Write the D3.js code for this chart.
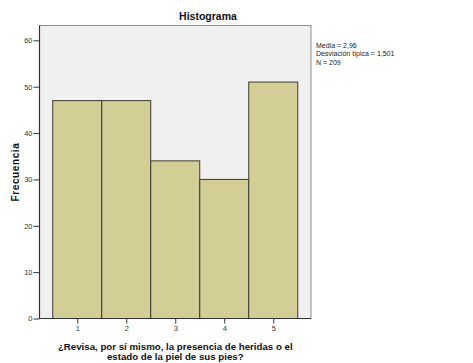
<!DOCTYPE html>
<html><head><meta charset="utf-8">
<script src="https://cdn.jsdelivr.net/npm/d3@7"></script>
<style>html,body{margin:0;padding:0;background:#fff;}svg{display:block;}</style>
</head><body>
<script>
const categories = [1, 2, 3, 4, 5];
const frequencies = [47, 47, 34, 30, 51];
const yTicks = [0, 10, 20, 30, 40, 50, 60];
const statsLines = ["Media = 2,96", "Desviación típica = 1,501", "N = 209"];
const titleText = "Histograma";
const yLabel = "Frecuencia";
const xLabelLines = ["¿Revisa, por sí mismo, la presencia de heridas o el", "estado de la piel de sus pies?"];

const W = 473, H = 363;
const plot = {l: 39.5, t: 25.5, r: 311, b: 318.5};
const svg = d3.select("body").append("svg").attr("width", W).attr("height", H);
const font = "'Liberation Sans', Arial, sans-serif";

const x = d3.scaleLinear().domain([0.23, 5.77]).range([plot.l, plot.r]);
const y = d3.scaleLinear().domain([0, 63.2]).range([plot.b, plot.t]);

svg.append("rect").attr("x", plot.l).attr("y", plot.t)
  .attr("width", plot.r - plot.l).attr("height", plot.b - plot.t)
  .attr("fill", "#f0f0f0").attr("stroke", "#8c8c8c").attr("stroke-width", 1);

svg.selectAll("rect.bar").data(categories).enter().append("rect")
  .attr("class", "bar")
  .attr("x", d => x(d - 0.5))
  .attr("width", d => x(d + 0.5) - x(d - 0.5))
  .attr("y", (d, i) => y(frequencies[i]))
  .attr("height", (d, i) => y(0) - y(frequencies[i]))
  .attr("fill", "#d3cd96").attr("stroke", "#3a3a30").attr("stroke-width", 1);

// axes lines
svg.append("line").attr("x1", plot.l).attr("x2", plot.l).attr("y1", plot.t).attr("y2", plot.b)
  .attr("stroke", "#333").attr("stroke-width", 1.2);
svg.append("line").attr("x1", plot.l).attr("x2", plot.r).attr("y1", plot.b).attr("y2", plot.b)
  .attr("stroke", "#333").attr("stroke-width", 1.2);

const yAxis = d3.axisLeft(y).tickValues(yTicks).tickFormat(d3.format("d")).tickSize(6).tickPadding(1);
const gy = svg.append("g").attr("transform", `translate(${plot.l},0)`).call(yAxis);
gy.select(".domain").remove();
gy.selectAll("line").attr("stroke", "#333");
gy.selectAll("text").attr("font-family", font).attr("font-size", 7.5).attr("fill", "#333");

const xAxis = d3.axisBottom(x).tickValues(categories).tickFormat(d3.format("d")).tickSize(5).tickPadding(2);
const gx = svg.append("g").attr("transform", `translate(0,${plot.b})`).call(xAxis);
gx.select(".domain").remove();
gx.selectAll("line").attr("stroke", "#333");
gx.selectAll("text").attr("font-family", font).attr("font-size", 7.5).attr("fill", "#333");

svg.append("text").attr("x", 208).attr("y", 19.5).attr("text-anchor", "middle")
  .attr("font-family", font).attr("font-weight", "bold").attr("font-size", 10.5)
  .attr("fill", "#111").text(titleText);

svg.append("text").attr("transform", `translate(18.5,${(plot.t + plot.b) / 2}) rotate(-90)`)
  .attr("text-anchor", "middle").attr("font-family", font).attr("font-weight", "bold")
  .attr("font-size", 10).attr("letter-spacing", 0.6).attr("fill", "#111").text(yLabel);

svg.selectAll("text.xl").data(xLabelLines).enter().append("text").attr("class", "xl")
  .attr("x", (plot.l + plot.r) / 2).attr("y", (d, i) => 350 + i * 10)
  .attr("text-anchor", "middle").attr("font-family", font).attr("font-weight", "bold")
  .attr("font-size", 9.7).attr("fill", "#111").text(d => d);

svg.selectAll("text.st").data(statsLines).enter().append("text").attr("class", "st")
  .attr("x", 316).attr("y", (d, i) => 48 + i * 8.3)
  .attr("font-family", font).attr("font-size", 7).attr("fill", "#222").text(d => d);
</script>
</body></html>
